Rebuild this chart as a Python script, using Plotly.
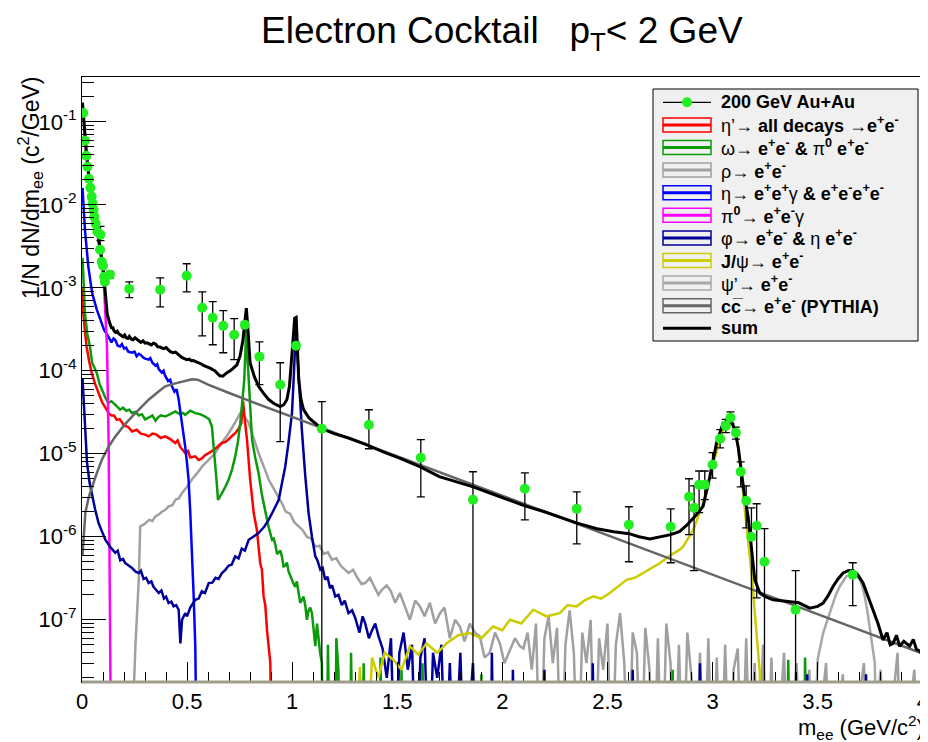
import plotly.graph_objects as go

# ---------------- data ----------------
# measured points: mass, value, lower and upper end of the error bar
data_x = [0.006, 0.014, 0.020, 0.026, 0.033, 0.040, 0.046, 0.051, 0.055, 0.059, 0.065, 0.073,
          0.088, 0.086, 0.094, 0.100, 0.105, 0.109, 0.133, 0.225, 0.372, 0.498, 0.572, 0.622,
          0.672, 0.724, 0.775, 0.844, 0.943, 1.018, 1.141, 1.365, 1.612, 1.860, 2.107, 2.354,
          2.602, 2.801, 2.888, 2.912, 2.936, 2.963, 3.000, 3.036, 3.063, 3.085, 3.111, 3.134,
          3.160, 3.185, 3.210, 3.247, 3.395, 3.667]
data_y = [0.128, 0.059, 0.039, 0.0287, 0.0206, 0.016, 0.0125, 0.0103, 0.0087, 0.00716, 0.0059, 0.00473,
          0.00435, 0.00287, 0.00206, 0.00184, 0.00136, 0.00118, 0.00144, 9.7e-4, 9.5e-4, 1.40e-3, 5.74e-4, 4.35e-4,
          3.48e-4, 2.72e-4, 3.58e-4, 1.48e-4, 6.8e-5, 2.0e-4, 2.0e-5, 2.23e-5, 8.95e-6, 2.79e-6, 3.79e-6, 2.17e-6,
          1.40e-6, 1.32e-6, 3.03e-6, 2.23e-6, 4.24e-6, 4.24e-6, 7.36e-6, 1.52e-5, 2.17e-5, 2.72e-5, 1.79e-5, 6.07e-6,
          2.72e-6, 1.0e-6, 1.36e-6, 5.0e-7, 1.32e-7, 3.48e-7]
data_lo = [0.128, 0.059, 0.039, 0.0287, 0.0206, 0.016, 0.0125, 0.0103, 0.0087, 0.00716, 0.0059, 0.00473,
           0.0037, 0.00287, 0.00206, 0.00184, 0.00136, 0.00118, 0.00131, 7.6e-4, 5.9e-4, 8.95e-4, 2.64e-4, 2.06e-4,
           1.65e-4, 1.36e-4, 3.3e-4, 6.8e-5, 1.4e-5, 1.8e-4, 1e-12, 1.15e-5, 3.03e-6, 1e-12, 1.6e-6, 8.2e-7,
           5.0e-7, 4.86e-7, 1.06e-6, 3.9e-7, 1.95e-6, 2.8e-6, 5.1e-6, 1.18e-5, 1.8e-5, 2.3e-5, 1.5e-5, 4.0e-6,
           1.28e-6, 1e-12, 1.84e-7, 1e-12, 1e-12, 1.48e-7]
data_hi = [0.128, 0.059, 0.039, 0.0287, 0.0206, 0.016, 0.0125, 0.0103, 0.0087, 0.00716, 0.0059, 0.00473,
           0.0055, 0.00287, 0.00206, 0.00184, 0.00136, 0.00118, 0.00158, 1.18e-3, 1.32e-3, 1.95e-3, 8.95e-4, 6.8e-4,
           5.3e-4, 4.24e-4, 3.9e-4, 2.23e-4, 1.25e-4, 2.2e-4, 4.24e-5, 3.39e-5, 1.48e-5, 6.07e-6, 5.9e-6, 3.48e-6,
           2.3e-6, 2.17e-6, 5.0e-6, 4.11e-6, 6.2e-6, 6.2e-6, 1.03e-5, 1.95e-5, 2.6e-5, 3.2e-5, 2.1e-5, 8.0e-6,
           4.1e-6, 2.23e-6, 2.5e-6, 1.25e-6, 3.9e-7, 4.86e-7]

# cocktail components (mass, 1/N dN/dm); 1e-9 = empty bin
etap = [(0.0025, 1.0e-3), (0.006, 5.0e-4), (0.014, 3.0e-4), (0.022, 1.95e-4), (0.034, 1.3e-4), (0.046, 9.5e-5),
        (0.062, 7.0e-5), (0.078, 5.4e-5), (0.095, 4.2e-5), (0.117, 3.4e-5), (0.13, 3.0e-5), (0.14, 2.9e-5),
        (0.152, 2.9e-5), (0.165, 2.57e-5), (0.18, 2.6e-5), (0.2, 2.2e-5), (0.22, 2.1e-5), (0.238, 1.86e-5),
        (0.26, 1.95e-5), (0.28, 1.75e-5), (0.3, 1.7e-5), (0.317, 1.62e-5), (0.335, 1.75e-5), (0.355, 1.7e-5),
        (0.375, 1.55e-5), (0.396, 1.62e-5), (0.42, 1.5e-5), (0.444, 1.35e-5), (0.455, 1.45e-5), (0.468, 1.2e-5),
        (0.491, 1.02e-5), (0.505, 1.08e-5), (0.515, 9.0e-6), (0.539, 9.3e-6), (0.555, 8.4e-6), (0.57, 8.8e-6),
        (0.585, 9.6e-6), (0.603, 1.02e-5), (0.62, 1.08e-5), (0.635, 1.15e-5), (0.65, 1.25e-5), (0.666, 1.35e-5),
        (0.685, 1.4e-5), (0.7, 1.5e-5), (0.715, 1.65e-5), (0.729, 1.77e-5), (0.745, 2.0e-5), (0.758, 2.34e-5),
        (0.766, 4.3e-5), (0.775, 2.5e-5), (0.785, 1.48e-5), (0.80, 4.9e-6), (0.817, 1.93e-6), (0.832, 1.21e-6),
        (0.848, 4.8e-7), (0.856, 4.0e-7), (0.864, 1.91e-7), (0.872, 1.5e-7), (0.88, 7.6e-8), (0.896, 3.0e-8),
        (0.904, 1e-9)]

omega = [(0.0025, 2.3e-3), (0.014, 5.0e-4), (0.025, 2.8e-4), (0.038, 1.95e-4), (0.048, 1.25e-4), (0.06, 1.1e-4),
         (0.07, 9.5e-5), (0.083, 7.0e-5), (0.095, 5.9e-5), (0.11, 4.8e-5), (0.125, 4.1e-5), (0.14, 4.3e-5),
         (0.158, 3.9e-5), (0.17, 3.6e-5), (0.181, 3.4e-5), (0.195, 3.6e-5), (0.21, 3.3e-5), (0.225, 3.4e-5),
         (0.238, 3.1e-5), (0.255, 3.2e-5), (0.27, 2.9e-5), (0.285, 3.0e-5), (0.3, 2.6e-5), (0.317, 2.72e-5),
         (0.335, 2.9e-5), (0.35, 2.5e-5), (0.362, 2.75e-5), (0.375, 2.9e-5), (0.396, 2.81e-5), (0.42, 3.0e-5),
         (0.444, 3.24e-5), (0.465, 3.0e-5), (0.48, 3.1e-5), (0.491, 2.95e-5), (0.515, 3.3e-5), (0.539, 3.09e-5),
         (0.562, 3.0e-5), (0.586, 2.81e-5), (0.605, 2.6e-5), (0.618, 2.13e-5), (0.626, 1.3e-5), (0.634, 7.7e-6),
         (0.641, 4.5e-6), (0.647, 2.79e-6), (0.656, 3.0e-6), (0.666, 3.36e-6), (0.682, 4.0e-6), (0.698, 4.9e-6),
         (0.714, 6.5e-6), (0.729, 9.3e-6), (0.742, 1.4e-5), (0.753, 2.34e-5), (0.765, 5.0e-5), (0.772, 7.8e-5),
         (0.777, 1.6e-4), (0.782, 3.5e-4), (0.787, 1.5e-4), (0.793, 7.8e-5), (0.8, 3.5e-5), (0.809, 1.48e-5),
         (0.824, 9e-6), (0.84, 5.85e-6), (0.856, 3.2e-6), (0.872, 1.93e-6), (0.88, 1.5e-6), (0.888, 1.3e-6),
         (0.896, 1.1e-6), (0.904, 9.2e-7), (0.912, 9.5e-7), (0.92, 8e-7), (0.928, 6.2e-7), (0.936, 6.5e-7),
         (0.944, 6.8e-7), (0.951, 5.8e-7), (0.959, 4.4e-7), (0.967, 4.5e-7), (0.975, 4.9e-7), (0.983, 3.8e-7),
         (0.991, 3.3e-7), (0.999, 3.03e-7), (1.007, 2.7e-7), (1.015, 2.5e-7), (1.022, 2.9e-7), (1.03, 2.0e-7),
         (1.038, 1.6e-7), (1.046, 1.74e-7), (1.054, 1.9e-7), (1.062, 1.5e-7), (1.07, 1.0e-7), (1.078, 1.3e-7),
         (1.086, 1.4e-7), (1.094, 1.2e-7), (1.102, 8e-8), (1.11, 4.8e-8), (1.118, 9e-8), (1.125, 6e-8),
         (1.133, 4e-8), (1.141, 3.0e-8), (1.15, 1e-9), (1.165, 1e-9), (1.17, 5e-8), (1.18, 1e-9), (1.205, 1e-9),
         (1.21, 6e-8), (1.22, 2.5e-8), (1.23, 1e-9), (1.275, 1e-9), (1.28, 4e-8), (1.29, 1e-9), (1.335, 1e-9),
         (1.34, 3e-8), (1.35, 1e-9), (1.415, 1e-9), (1.42, 3.5e-8), (1.43, 1e-9), (1.515, 1e-9), (1.52, 2.5e-8),
         (1.53, 1e-9), (1.615, 1e-9), (1.62, 3e-8), (1.63, 1e-9), (1.895, 1e-9), (1.9, 2.2e-8), (1.91, 1e-9),
         (2.805, 1e-9), (2.81, 2.5e-8), (2.82, 1e-9), (3.355, 1e-9), (3.36, 3.3e-8), (3.37, 1e-9),
         (3.435, 1e-9), (3.44, 3.5e-8), (3.45, 1e-9)]

rho = [(0.23, 1e-9), (0.254, 4.8e-8), (0.27, 3.0e-7), (0.277, 1.33e-6), (0.293, 1.4e-6), (0.305, 1.5e-6),
       (0.32, 1.6e-6), (0.335, 1.55e-6), (0.349, 1.76e-6), (0.365, 1.85e-6), (0.38, 2.0e-6), (0.395, 2.1e-6),
       (0.412, 2.32e-6), (0.43, 2.4e-6), (0.445, 2.8e-6), (0.46, 2.9e-6), (0.476, 3.36e-6), (0.5, 4.0e-6),
       (0.523, 4.9e-6), (0.547, 5.8e-6), (0.571, 7.0e-6), (0.6, 8.3e-6), (0.634, 1.02e-5), (0.665, 1.35e-5),
       (0.698, 1.77e-5), (0.725, 2.3e-5), (0.753, 3.09e-5), (0.77, 2.9e-5), (0.793, 2.34e-5), (0.815, 1.6e-5),
       (0.84, 1.02e-5), (0.865, 7e-6), (0.888, 4.9e-6), (0.92, 3.5e-6), (0.935, 3.0e-6), (0.951, 2.55e-6),
       (0.97, 2.0e-6), (0.99, 1.9e-6), (1.01, 1.5e-6), (1.031, 1.33e-6), (1.05, 1.2e-6), (1.07, 1.0e-6),
       (1.09, 9.5e-7), (1.11, 7.6e-7), (1.13, 7.8e-7), (1.15, 6.2e-7), (1.17, 6.5e-7), (1.189, 5.3e-7),
       (1.21, 5.5e-7), (1.23, 4.5e-7), (1.25, 4.0e-7), (1.268, 3.66e-7), (1.29, 4.0e-7), (1.31, 3.2e-7),
       (1.33, 2.7e-7), (1.347, 2.77e-7), (1.37, 3.2e-7), (1.39, 2.5e-7), (1.41, 2.0e-7), (1.427, 2.3e-7),
       (1.45, 2.6e-7), (1.47, 2.2e-7), (1.49, 1.6e-7), (1.512, 2.1e-7), (1.535, 1.5e-7), (1.56, 1.0e-7),
       (1.585, 1.7e-7), (1.608, 1.45e-7), (1.63, 1.1e-7), (1.655, 1.6e-7), (1.68, 9e-8), (1.703, 1.2e-7),
       (1.725, 1.4e-7), (1.75, 6e-8), (1.775, 1.0e-7), (1.798, 8.3e-8), (1.82, 5.5e-8), (1.845, 9e-8),
       (1.87, 7e-8), (1.893, 6.3e-8), (1.915, 3.5e-8), (1.94, 4e-8), (1.965, 7e-8), (1.988, 5.2e-8),
       (2.01, 3e-8), (2.04, 4.5e-8), (2.06, 6e-8), (2.083, 4.8e-8), (2.10, 4.5e-8), (2.12, 7e-8), (2.14, 2.5e-8),
       (2.16, 9e-8), (2.18, 1e-9), (2.20, 6e-8), (2.22, 1.1e-7), (2.24, 3e-8), (2.26, 8e-8), (2.28, 1e-9),
       (2.30, 5e-8), (2.32, 1.3e-7), (2.34, 4e-8), (2.36, 1e-9), (2.38, 7e-8), (2.40, 3e-8), (2.42, 1e-7),
       (2.44, 1e-9), (2.46, 6e-8), (2.48, 2.5e-8), (2.50, 9e-8), (2.52, 1e-9), (2.54, 5e-8), (2.56, 1.2e-7),
       (2.58, 3e-8), (2.60, 1e-9), (2.62, 7e-8), (2.64, 4e-8), (2.66, 1e-9), (2.68, 8e-8), (2.70, 2.5e-8),
       (2.72, 1e-9), (2.74, 6e-8), (2.76, 1e-9), (2.78, 9e-8), (2.80, 3e-8), (2.82, 1e-9), (2.84, 5e-8),
       (2.86, 1e-9), (2.88, 7e-8), (2.90, 2e-8), (2.92, 1e-9), (2.94, 4e-8), (2.96, 1e-9), (2.98, 6e-8),
       (3.00, 1e-9), (3.02, 3.5e-8), (3.04, 1e-9), (3.06, 5e-8), (3.08, 1e-9), (3.10, 2.5e-8), (3.12, 4.5e-8),
       (3.14, 1e-9), (3.16, 6e-8), (3.18, 1e-9), (3.20, 3e-8), (3.22, 1e-9), (3.24, 5e-8), (3.26, 1e-9),
       (3.28, 3.5e-8), (3.30, 1e-9), (3.34, 4e-8), (3.36, 1e-9), (3.40, 3e-8), (3.42, 1e-9), (3.46, 2.5e-8),
       (3.48, 1e-9), (3.54, 3e-8), (3.56, 1e-9), (3.62, 2.2e-8), (3.64, 1e-9), (3.72, 3e-8), (3.74, 1e-9),
       (3.80, 2.5e-8), (3.82, 1e-9), (3.88, 4e-8), (3.90, 1e-9), (3.96, 2.5e-8), (3.98, 1e-9), (4.02, 3e-8)]

eta = [(0.0025, 0.016), (0.014, 5.0e-3), (0.03, 1.8e-3), (0.048, 8.7e-4), (0.07, 5.5e-4), (0.086, 4.1e-4),
       (0.105, 3.1e-4), (0.125, 2.6e-4), (0.14, 2.2e-4), (0.15, 2.45e-4), (0.158, 2.36e-4), (0.17, 2.0e-4),
       (0.181, 1.96e-4), (0.19, 2.1e-4), (0.2, 1.85e-4), (0.21, 1.9e-4), (0.22, 1.7e-4), (0.238, 1.65e-4),
       (0.25, 1.7e-4), (0.26, 1.5e-4), (0.27, 1.6e-4), (0.28, 1.55e-4), (0.29, 1.45e-4), (0.3, 1.4e-4),
       (0.317, 1.36e-4), (0.325, 1.42e-4), (0.335, 1.25e-4), (0.35, 1.15e-4), (0.358, 1.2e-4), (0.365, 1.05e-4),
       (0.38, 9.5e-5), (0.388, 1.0e-4), (0.395, 8.8e-5), (0.41, 7.5e-5), (0.42, 7.8e-5), (0.428, 6.5e-5),
       (0.44, 5.6e-5), (0.45, 6.0e-5), (0.46, 4.5e-5), (0.468, 3.2e-5), (0.476, 2.36e-5), (0.484, 1.6e-5),
       (0.491, 1.22e-5), (0.499, 8e-6), (0.507, 4.9e-6), (0.515, 2e-6), (0.523, 7.6e-7), (0.531, 2e-7),
       (0.539, 4.8e-8), (0.547, 1e-9)]

pi0 = [(0.0025, 0.16), (0.01, 0.09), (0.02, 0.042), (0.03, 0.024), (0.04, 0.016), (0.05, 0.0105),
       (0.06, 0.0071), (0.07, 0.0049), (0.08, 0.0034), (0.09, 0.0023), (0.10, 0.0015), (0.103, 0.00125),
       (0.111, 5.0e-4), (0.119, 1.95e-4), (0.127, 1.21e-5), (0.135, 1.2e-7), (0.139, 1e-9)]

phi = [(0.0025, 8e-5), (0.008, 4.0e-5), (0.016, 1.7e-5), (0.024, 7.8e-6), (0.036, 4.5e-6), (0.048, 3.06e-6),
       (0.063, 2.1e-6), (0.079, 1.46e-6), (0.095, 1.15e-6), (0.111, 9.2e-7), (0.135, 7.5e-7), (0.158, 6.4e-7),
       (0.17, 6.8e-7), (0.182, 5.2e-7), (0.195, 5.4e-7), (0.206, 4.8e-7), (0.222, 4.5e-7), (0.238, 4.2e-7),
       (0.255, 3.8e-7), (0.27, 3.66e-7), (0.28, 3.9e-7), (0.293, 3.1e-7), (0.305, 3.2e-7), (0.317, 2.77e-7),
       (0.33, 2.9e-7), (0.34, 2.5e-7), (0.352, 2.3e-7), (0.365, 2.1e-7), (0.378, 2.25e-7), (0.39, 1.8e-7),
       (0.4, 1.9e-7), (0.412, 1.59e-7), (0.425, 1.65e-7), (0.436, 1.45e-7), (0.448, 1.5e-7), (0.46, 1.32e-7),
       (0.468, 5.2e-8), (0.476, 1.0e-7), (0.491, 1.2e-7), (0.5, 1.1e-7), (0.515, 1.4e-7), (0.525, 1.55e-7),
       (0.539, 1.74e-7), (0.555, 1.8e-7), (0.57, 2.2e-7), (0.585, 2.1e-7), (0.603, 2.77e-7), (0.62, 2.8e-7),
       (0.635, 3.2e-7), (0.65, 3.1e-7), (0.666, 3.66e-7), (0.682, 4.0e-7), (0.698, 4.5e-7), (0.712, 4.6e-7),
       (0.729, 5.8e-7), (0.745, 5.5e-7), (0.76, 7.2e-7), (0.775, 6.8e-7), (0.793, 9.2e-7), (0.815, 1.0e-6),
       (0.84, 1.11e-6), (0.865, 1.3e-6), (0.888, 1.6e-6), (0.912, 2.1e-6), (0.936, 2.79e-6), (0.952, 4.5e-6),
       (0.967, 7.0e-6), (0.983, 1.4e-5), (0.999, 3.09e-5), (1.007, 8e-5), (1.015, 1.96e-4), (1.019, 3.8e-4),
       (1.023, 2.0e-4), (1.031, 7.8e-5), (1.038, 3.5e-5), (1.046, 1.95e-5), (1.062, 5.5e-6), (1.078, 1.93e-6),
       (1.094, 1.0e-6), (1.11, 5.8e-7), (1.12, 5.2e-7), (1.134, 4.0e-7), (1.145, 4.2e-7), (1.157, 3.03e-7),
       (1.168, 3.3e-7), (1.18, 2.4e-7), (1.19, 2.6e-7), (1.205, 1.91e-7), (1.22, 2.0e-7), (1.236, 1.5e-7),
       (1.25, 1.7e-7), (1.268, 1.2e-7), (1.285, 1.3e-7), (1.3, 1.05e-7), (1.32, 7e-8), (1.335, 1.1e-7),
       (1.347, 9.1e-8), (1.365, 6e-8), (1.38, 7.5e-8), (1.395, 9e-8), (1.411, 6.3e-8), (1.43, 4.5e-8),
       (1.45, 2e-8), (1.47, 6e-8), (1.49, 1e-9), (1.51, 4e-8), (1.53, 7e-8), (1.55, 2.5e-8), (1.57, 5e-8),
       (1.59, 1e-9), (1.61, 3.5e-8), (1.63, 6e-8), (1.65, 1e-9), (1.67, 4e-8), (1.69, 2e-8), (1.71, 5e-8),
       (1.73, 1e-9), (1.75, 3e-8), (1.77, 1e-9), (1.80, 4e-8), (1.82, 1e-9), (1.86, 3e-8), (1.88, 1e-9),
       (1.945, 1e-9), (1.95, 4e-8), (1.96, 1e-9), (2.045, 1e-9), (2.05, 2.5e-8), (2.06, 1e-9), (2.195, 1e-9),
       (2.2, 2.5e-8), (2.21, 1e-9), (2.425, 1e-9), (2.43, 3e-8), (2.44, 1e-9), (2.615, 1e-9), (2.62, 2.5e-8),
       (2.63, 1e-9), (2.935, 1e-9), (2.94, 3e-8), (2.95, 1e-9), (3.445, 1e-9), (3.45, 2.2e-8), (3.46, 1e-9),
       (3.725, 1e-9), (3.73, 2.2e-8), (3.74, 1e-9)]

jpsi = [(1.30, 1e-9), (1.322, 2.7e-8), (1.35, 1e-9), (1.38, 3.5e-8), (1.41, 2e-8), (1.44, 4e-8), (1.481, 3.3e-8),
        (1.52, 2.5e-8), (1.56, 4.8e-8), (1.6, 3.8e-8), (1.639, 5.2e-8), (1.69, 4e-8), (1.735, 5.2e-8),
        (1.79, 6.5e-8), (1.845, 6.9e-8), (1.9, 6e-8), (1.956, 8.3e-8), (2.0, 7.5e-8), (2.036, 1.0e-7),
        (2.09, 9e-8), (2.147, 1.32e-7), (2.21, 1.1e-7), (2.273, 1.2e-7), (2.31, 1.5e-7), (2.353, 1.45e-7),
        (2.39, 1.7e-7), (2.432, 1.91e-7), (2.47, 1.8e-7), (2.511, 2.1e-7), (2.55, 2.5e-7), (2.591, 3.03e-7),
        (2.63, 3.2e-7), (2.67, 3.66e-7), (2.71, 4.2e-7), (2.749, 4.8e-7), (2.8, 6.0e-7), (2.844, 7.0e-7),
        (2.86, 7.6e-7), (2.885, 9.5e-7), (2.908, 1.21e-6), (2.93, 1.7e-6), (2.955, 2.55e-6), (2.975, 4.0e-6),
        (2.995, 6.4e-6), (3.015, 1.0e-5), (3.034, 1.48e-5), (3.05, 1.9e-5), (3.066, 2.23e-5), (3.078, 2.4e-5),
        (3.09, 2.34e-5), (3.1, 2.1e-5), (3.11, 1.7e-5), (3.122, 1.22e-5), (3.138, 5e-6), (3.153, 2.32e-6),
        (3.165, 1.2e-6), (3.177, 6.4e-7), (3.19, 2.8e-7), (3.201, 1.2e-7), (3.213, 5e-8), (3.225, 2.3e-8),
        (3.234, 1e-9)]

psi2s = [(3.478, 1e-9), (3.50, 3.3e-8), (3.526, 6.9e-8), (3.546, 1.0e-7), (3.566, 1.45e-7), (3.585, 1.95e-7),
         (3.605, 2.52e-7), (3.62, 2.9e-7), (3.637, 3.33e-7), (3.653, 3.45e-7), (3.669, 3.48e-7), (3.685, 3.35e-7),
         (3.701, 3.03e-7), (3.713, 2.5e-7), (3.724, 1.91e-7), (3.736, 1.3e-7), (3.748, 8.3e-8), (3.76, 5e-8),
         (3.772, 3.0e-8), (3.783, 1e-9)]

ccbar = [(0.0025, 6e-7), (0.016, 1.95e-6), (0.032, 3.0e-6), (0.048, 4.0e-6), (0.07, 5.8e-6), (0.095, 8.5e-6),
         (0.125, 1.2e-5), (0.158, 1.61e-5), (0.2, 2.2e-5), (0.238, 2.81e-5), (0.28, 3.6e-5), (0.317, 4.48e-5),
         (0.36, 5.5e-5), (0.396, 6.5e-5), (0.44, 7.0e-5), (0.476, 7.4e-5), (0.5, 7.7e-5), (0.523, 7.9e-5),
         (0.55, 7.8e-5), (0.6, 6.8e-5), (0.7, 5.4e-5), (0.8, 4.3e-5), (1.0, 2.79e-5), (1.2, 1.80e-5),
         (1.4, 1.16e-5), (1.6, 7.5e-6), (1.8, 4.85e-6), (2.0, 3.13e-6), (2.2, 2.02e-6), (2.4, 1.30e-6),
         (2.6, 8.4e-7), (2.8, 5.4e-7), (3.0, 3.5e-7), (3.2, 2.26e-7), (3.4, 1.46e-7), (3.6, 9.4e-8),
         (3.8, 6.1e-8), (4.0, 3.9e-8), (4.025, 3.7e-8)]

total = [(0.0025, 0.17), (0.01, 0.09), (0.02, 0.043), (0.03, 0.025), (0.04, 0.017), (0.05, 0.0115),
         (0.06, 0.0078), (0.07, 0.0055), (0.08, 0.0039), (0.09, 0.0027), (0.10, 0.0018), (0.105, 0.0013),
         (0.11, 9.5e-4), (0.115, 6.5e-4), (0.12, 4.8e-4), (0.13, 3.9e-4), (0.14, 3.3e-4), (0.147, 3.3e-4),
         (0.153, 3.0e-4), (0.16, 2.9e-4), (0.168, 3.0e-4), (0.175, 2.8e-4), (0.185, 2.65e-4), (0.195, 2.57e-4),
         (0.203, 2.7e-4), (0.21, 2.5e-4), (0.218, 2.45e-4), (0.225, 2.6e-4), (0.235, 2.4e-4), (0.243, 2.36e-4),
         (0.252, 2.5e-4), (0.26, 2.4e-4), (0.27, 2.3e-4), (0.28, 2.2e-4), (0.29, 2.3e-4), (0.3, 2.15e-4),
         (0.309, 2.17e-4), (0.32, 2.1e-4), (0.33, 2.05e-4), (0.34, 2.15e-4), (0.35, 2.1e-4), (0.36, 1.95e-4),
         (0.371, 1.94e-4), (0.38, 1.88e-4), (0.39, 1.85e-4), (0.4, 1.9e-4), (0.41, 1.8e-4), (0.42, 1.7e-4),
         (0.433, 1.65e-4), (0.445, 1.68e-4), (0.455, 1.6e-4), (0.465, 1.5e-4), (0.475, 1.45e-4),
         (0.487, 1.4e-4), (0.499, 1.36e-4), (0.51, 1.38e-4), (0.52, 1.32e-4), (0.53, 1.33e-4), (0.54, 1.3e-4),
         (0.55, 1.27e-4), (0.561, 1.25e-4), (0.57, 1.2e-4), (0.58, 1.15e-4), (0.59, 1.13e-4), (0.6, 1.1e-4),
         (0.612, 1.07e-4), (0.623, 1.03e-4), (0.632, 1.0e-4), (0.64, 9.5e-5), (0.648, 9.0e-5), (0.656, 8.7e-5),
         (0.67, 8.6e-5), (0.69, 9.5e-5), (0.71, 1.02e-4), (0.737, 1.18e-4), (0.752, 1.5e-4), (0.766, 2.36e-4),
         (0.774, 3.8e-4), (0.782, 5.7e-4), (0.79, 3.0e-4), (0.80, 1.24e-4), (0.82, 8.5e-5), (0.84, 6.5e-5),
         (0.865, 5.3e-5), (0.888, 4.5e-5), (0.915, 4.0e-5), (0.943, 3.7e-5), (0.96, 3.9e-5), (0.975, 4.5e-5),
         (0.987, 6.5e-5), (0.995, 1.24e-4), (1.005, 2.5e-4), (1.012, 4.3e-4), (1.019, 4.4e-4), (1.025, 1.9e-4),
         (1.031, 7.8e-5), (1.042, 4.5e-5), (1.054, 3.4e-5), (1.08, 2.7e-5), (1.11, 2.34e-5), (1.141, 2.0e-5),
         (1.2, 1.75e-5), (1.268, 1.55e-5), (1.35, 1.3e-5), (1.427, 1.07e-5), (1.52, 8.7e-6), (1.612, 6.9e-6),
         (1.7, 5.3e-6), (1.78, 4.6e-6), (1.861, 4.0e-6), (1.95, 3.3e-6), (2.03, 2.8e-6), (2.107, 2.36e-6),
         (2.2, 2.0e-6), (2.28, 1.7e-6), (2.356, 1.46e-6), (2.45, 1.25e-6), (2.53, 1.15e-6), (2.603, 1.09e-6),
         (2.65, 1.0e-6), (2.702, 9.4e-7), (2.75, 1.0e-6), (2.801, 1.06e-6), (2.844, 1.16e-6), (2.88, 1.4e-6),
         (2.92, 1.8e-6), (2.955, 2.32e-6), (2.987, 5.3e-6), (3.019, 1.35e-5), (3.05, 2.34e-5), (3.065, 2.45e-5),
         (3.079, 2.52e-5), (3.093, 2.35e-5), (3.106, 1.95e-5), (3.122, 1.2e-5), (3.138, 5.85e-6),
         (3.153, 3.0e-6), (3.169, 1.76e-6), (3.185, 7.5e-7), (3.201, 3.03e-7), (3.225, 2.1e-7), (3.25, 1.9e-7),
         (3.288, 1.74e-7), (3.33, 1.7e-7), (3.367, 1.66e-7), (3.41, 1.6e-7), (3.462, 1.38e-7), (3.5, 1.45e-7),
         (3.526, 1.59e-7), (3.55, 1.95e-7), (3.573, 2.52e-7), (3.597, 3.1e-7), (3.621, 3.66e-7),
         (3.645, 3.9e-7), (3.668, 3.93e-7), (3.69, 3.5e-7), (3.716, 2.77e-7), (3.74, 1.9e-7), (3.764, 1.32e-7),
         (3.787, 9e-8), (3.811, 5.7e-8), (3.83, 7e-8), (3.845, 5e-8), (3.859, 5.2e-8), (3.875, 6.5e-8),
         (3.89, 4.8e-8), (3.91, 5.5e-8), (3.938, 4.8e-8), (3.955, 5.8e-8), (3.97, 4.4e-8), (3.985, 4.2e-8),
         (4.0, 3.8e-8), (4.018, 3.6e-8)]

y_decades = [-7, -6, -5, -4, -3, -2, -1]

# ---------------- styling ----------------
NARROW = "Liberation Sans Narrow, Liberation Sans, Arial, sans-serif"
SANS = "Liberation Sans, Arial, sans-serif"

components = [
    ("rho", rho, "#a0a0a0"),
    ("etap", etap, "#ff0000"),
    ("omega", omega, "#0a9a0a"),
    ("eta", eta, "#0000ff"),
    ("pi0", pi0, "#ff00ff"),
    ("phi", phi, "#000099"),
    ("jpsi", jpsi, "#cccc00"),
    ("psi2s", psi2s, "#a8a8a8"),
    ("ccbar", ccbar, "#666666"),
]

fig = go.Figure()
for name, pts, col in components:
    fig.add_trace(go.Scatter(x=[p[0] for p in pts], y=[p[1] for p in pts], mode="lines",
                             line=dict(color=col, width=2.5), name=name, hoverinfo="skip"))

fig.add_trace(go.Scatter(x=[p[0] for p in total], y=[p[1] for p in total], mode="lines",
                         line=dict(color="black", width=3), name="sum"))

fig.add_trace(go.Scatter(
    x=data_x, y=data_y, mode="markers", name="200 GeV Au+Au",
    marker=dict(color="#22ee22", size=10, line=dict(width=0)),
    error_y=dict(type="data", symmetric=False,
                 array=[h - y for h, y in zip(data_hi, data_y)],
                 arrayminus=[y - l for l, y in zip(data_lo, data_y)],
                 color="black", thickness=1.3, width=4)))

# invisible trace carrying the minor-tick axis
fig.add_trace(go.Scatter(x=[None], y=[None], yaxis="y2", showlegend=False))

# the page body adds an 8px margin, so the figure itself is drawn 8px in from the window corner
OFF = 8
W, H = 920, 734
L, R, T, B = 74, 0, 69, 60
PW, PH = W - L - R, H - T - B


def px(x):
    # window pixel -> paper fraction
    return (x - OFF - L) / PW


def py(y):
    return (H - B - (y - OFF)) / PH


minor_vals = [m * 10.0 ** e for e in range(-8, 0) for m in range(2, 10)]

fig.update_layout(
    width=W, height=H, margin=dict(l=L, r=R, t=T, b=B, autoexpand=False),
    plot_bgcolor="white", paper_bgcolor="white", showlegend=False,
    font=dict(family=NARROW, color="black"),
    xaxis=dict(range=[0, 4.025], showline=True, linecolor="black", linewidth=1, mirror=True,
               ticks="inside", ticklen=20, tickcolor="black", dtick=0.5, tick0=0, automargin=False,
               ticklabeloverflow="allow",
               minor=dict(dtick=0.1, ticklen=10, ticks="inside", tickcolor="black"),
               tickfont=dict(family=NARROW, size=22), showgrid=False, zeroline=False),
    yaxis=dict(type="log", range=[-7.75, -0.46], showline=True, linecolor="black", linewidth=1,
               mirror=True, ticks="inside", ticklen=24, tickcolor="black", automargin=False,
               tickvals=[10.0 ** d for d in y_decades],
               ticktext=["10<sup>%d</sup>" % d for d in y_decades],
               tickfont=dict(family=NARROW, size=22), showgrid=False, zeroline=False),
    yaxis2=dict(type="log", range=[-7.75, -0.46], overlaying="y", side="left", showline=False,
                ticks="inside", ticklen=12, tickcolor="black", tickvals=minor_vals, automargin=False,
                showticklabels=False, showgrid=False, zeroline=False),
)

shapes = []
annotations = []

# bottom edge where empty bins pile up
shapes.append(dict(type="line", xref="paper", yref="paper", x0=0, x1=1, y0=0, y1=0,
                   line=dict(color="#a09d8c", width=3), layer="above"))

# titles
annotations.append(dict(text="Electron Cocktail&nbsp;&nbsp;&nbsp;p<sub>T</sub>&lt; 2 GeV",
                        x=px(502), y=py(33), xref="paper", yref="paper", showarrow=False,
                        xanchor="center", yanchor="middle", font=dict(family=NARROW, size=37)))
annotations.append(dict(text="1/N dN/dm<sub>ee</sub> (c<sup>2</sup>/GeV)", textangle=-90,
                        x=px(30), y=py(75), xref="paper", yref="paper", showarrow=False,
                        xanchor="center", yanchor="top", font=dict(family=NARROW, size=23)))
annotations.append(dict(text="m<sub>ee</sub> (GeV/c<sup>2</sup>)",
                        x=px(926), y=py(727), xref="paper", yref="paper", showarrow=False,
                        xanchor="right", yanchor="middle", font=dict(family=NARROW, size=22)))

# legend box
shapes.append(dict(type="rect", xref="paper", yref="paper", x0=px(653), x1=px(918), y0=py(341), y1=py(89),
                   line=dict(color="black", width=1), fillcolor="#f0f0f0", layer="above"))

legend_rows = [
    ("<b>200 GeV Au+Au</b>", None),
    ("η’→ <b>all decays</b> →<b>e<sup>+</sup>e<sup>-</sup></b>", "#ff0000"),
    ("ω→ <b>e<sup>+</sup>e<sup>-</sup> &amp; </b>π<b><sup>0</sup> e<sup>+</sup>e<sup>-</sup></b>", "#0a9a0a"),
    ("ρ→ <b>e<sup>+</sup>e<sup>-</sup></b>", "#a0a0a0"),
    ("η→ <b>e<sup>+</sup>e<sup>+</sup></b>γ<b> &amp; e<sup>+</sup>e<sup>-</sup>e<sup>+</sup>e<sup>-</sup></b>", "#0000ff"),
    ("π<b><sup>0</sup></b>→ <b>e<sup>+</sup>e<sup>-</sup></b>γ", "#ff00ff"),
    ("φ→ <b>e<sup>+</sup>e<sup>-</sup> &amp; </b>η<b> e<sup>+</sup>e<sup>-</sup></b>", "#000099"),
    ("<b>J/</b>ψ→ <b>e<sup>+</sup>e<sup>-</sup></b>", "#cccc00"),
    ("ψ’→ <b>e<sup>+</sup>e<sup>-</sup></b>", "#a8a8a8"),
    ("<b>cc\u0305→ e<sup>+</sup>e<sup>-</sup> (PYTHIA)</b>", "#666666"),
    ("<b>sum</b>", "black"),
]

for i, (txt, col) in enumerate(legend_rows):
    yc = 102.3 + 22.6 * i
    if i == 0:
        shapes.append(dict(type="line", xref="paper", yref="paper", x0=px(663), x1=px(711),
                           y0=py(yc), y1=py(yc), line=dict(color="black", width=1.3), layer="above"))
        shapes.append(dict(type="circle", xref="paper", yref="paper", x0=px(682), x1=px(692),
                           y0=py(yc + 5), y1=py(yc - 5), fillcolor="#22ee22", line=dict(width=0),
                           layer="above"))
    elif col == "black":
        shapes.append(dict(type="line", xref="paper", yref="paper", x0=px(663), x1=px(711),
                           y0=py(yc), y1=py(yc), line=dict(color="black", width=3), layer="above"))
    else:
        shapes.append(dict(type="rect", xref="paper", yref="paper", x0=px(663), x1=px(711),
                           y0=py(yc + 7), y1=py(yc - 7), line=dict(color=col, width=1.5), layer="above"))
        shapes.append(dict(type="line", xref="paper", yref="paper", x0=px(663), x1=px(711),
                           y0=py(yc), y1=py(yc), line=dict(color=col, width=3), layer="above"))
    annotations.append(dict(text=txt, x=px(719), y=py(yc), xref="paper", yref="paper", showarrow=False,
                            xanchor="left", yanchor="middle", font=dict(family=SANS, size=18)))

fig.update_layout(shapes=shapes, annotations=annotations)

fig.write_html("out.html")
